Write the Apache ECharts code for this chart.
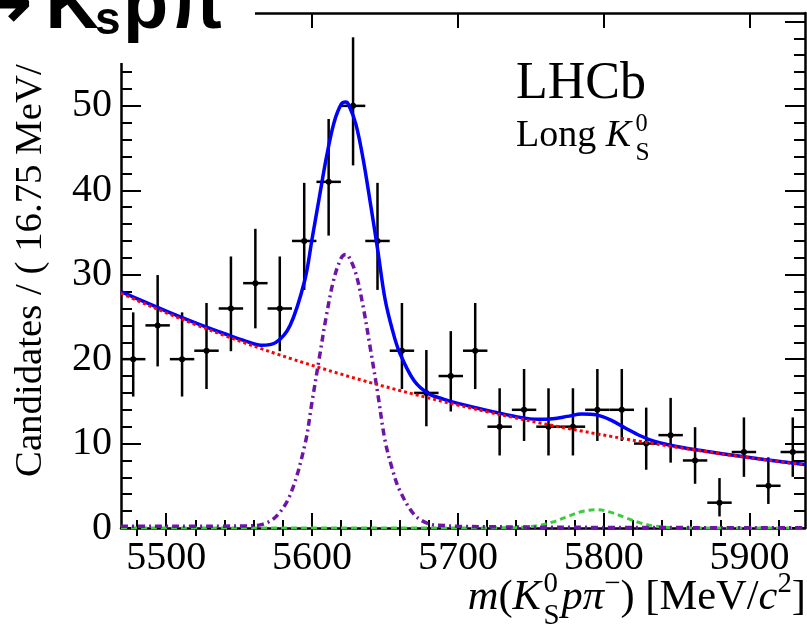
<!DOCTYPE html>
<html>
<head>
<meta charset="utf-8">
<script src="https://cdn.jsdelivr.net/npm/echarts@6/dist/echarts.min.js"></script>
<style>
  html, body { margin: 0; padding: 0; background: #fff; }
  #chart { width: 807px; height: 631px; }
</style>
</head>
<body>
<div id="chart"></div>
<script>
// ---- histogram of m(KS p pi-) candidates ----
const massLow = 5469;
const massHigh = 5938;
const binWidth = 16.75;
const counts = [20, 24, 20, 21, 26, 29, 26, 34, 41, 50, 34, 21, 16, 18, 21, 12, 14, 12, 12, 14, 14, 10, 11, 8, 3, 9, 5, 9];
// asymmetric Poisson (68.3% CL) uncertainties for each bin
const errLow  = [4.43, 4.86, 4.43, 4.54, 5.06, 5.35, 5.06, 5.80, 6.37, 7.05, 5.80, 4.54, 3.95, 4.20, 4.54, 3.41, 3.69, 3.41, 3.41, 3.69, 3.69, 3.10, 3.26, 2.76, 1.63, 2.94, 2.15, 2.94];
const errHigh = [5.54, 5.96, 5.54, 5.65, 6.16, 6.44, 6.16, 6.88, 7.45, 8.12, 6.88, 5.65, 5.08, 5.32, 5.65, 4.55, 4.83, 4.55, 4.55, 4.83, 4.83, 4.26, 4.41, 3.94, 2.91, 4.10, 3.37, 4.10];

// ---- fit model components, sampled in mass ----
const curveMass = [5469, 5480, 5500, 5520, 5540, 5555, 5565, 5575, 5585, 5595, 5600, 5605, 5610, 5615, 5620, 5623, 5625, 5630, 5635, 5640, 5645, 5650, 5655, 5660, 5670, 5680, 5690, 5700, 5720, 5740, 5755, 5765, 5775, 5785, 5795, 5805, 5815, 5825, 5835, 5850, 5870, 5890, 5910, 5938];
const totalFit = [28.00, 27.16, 25.69, 24.30, 23.01, 22.10, 21.65, 21.96, 24.02, 29.34, 34.23, 39.18, 44.04, 47.98, 50.20, 50.46, 50.17, 47.87, 43.72, 38.46, 32.96, 27.15, 23.52, 20.79, 17.44, 15.90, 15.27, 14.76, 13.93, 13.19, 12.87, 12.95, 13.22, 13.51, 13.40, 12.77, 11.82, 10.93, 10.26, 9.65, 9.09, 8.59, 8.12, 7.51];
const combBkg = [27.80, 26.96, 25.49, 24.10, 22.79, 21.85, 21.25, 20.66, 20.09, 19.54, 19.27, 19.00, 18.73, 18.47, 18.22, 18.06, 17.96, 17.71, 17.47, 17.22, 16.98, 16.75, 16.52, 16.29, 15.84, 15.40, 14.97, 14.56, 13.77, 13.02, 12.48, 12.14, 11.80, 11.48, 11.16, 10.85, 10.55, 10.26, 9.98, 9.57, 9.05, 8.55, 8.09, 7.48];
const signalPeak = [0.20, 0.20, 0.20, 0.20, 0.22, 0.25, 0.40, 1.30, 3.93, 9.80, 14.96, 20.18, 25.31, 29.51, 31.98, 32.40, 32.21, 30.16, 26.25, 21.24, 15.98, 10.40, 7.00, 4.50, 1.60, 0.50, 0.30, 0.20, 0.15, 0.12, 0.10, 0.10, 0.08, 0.08, 0.07, 0.07, 0.06, 0.06, 0.05, 0.05, 0.04, 0.04, 0.03, 0.03];
const secondPeak = [0, 0, 0, 0, 0, 0, 0, 0, 0, 0, 0, 0, 0, 0, 0, 0, 0, 0, 0, 0, 0, 0, 0, 0, 0, 0, 0, 0, 0.01, 0.05, 0.29, 0.71, 1.34, 1.95, 2.17, 1.85, 1.21, 0.61, 0.23, 0.03, 0, 0, 0, 0];

// ---- axis ticks ----
const xMajorTicks = [5500, 5600, 5700, 5800, 5900];
const xMinorTicks = [5480, 5500, 5520, 5540, 5560, 5580, 5600, 5620, 5640, 5660, 5680, 5700, 5720, 5740, 5760, 5780, 5800, 5820, 5840, 5860, 5880, 5900, 5920];
const yMax = 61;
const yMajorTicks = [0, 10, 20, 30, 40, 50, 60];
const yMinorTicks = [0, 2, 4, 6, 8, 10, 12, 14, 16, 18, 20, 22, 24, 26, 28, 30, 32, 34, 36, 38, 40, 42, 44, 46, 48, 50, 52, 54, 56, 58, 60];

const SERIF = '"Liberation Serif", "Times New Roman", serif';
const SANS = '"Liberation Sans", Arial, sans-serif';
const MID = 0.3375;   // canvas 'middle' baseline offset (fraction of font size) for the serif face

// text measurement for composing labels with sub/superscripts
const measureCtx = document.createElement('canvas').getContext('2d');
function textWidth(str, size, italic, family) {
  measureCtx.font = (italic ? 'italic ' : '') + size + 'px ' + family;
  return measureCtx.measureText(str).width;
}

// pieces: {t, i (italic), s (relative size), dy (baseline shift, fraction of F), kern}
// or {stack:[...], kern}
function composeLabel(pieces, F, baseline, anchorX, alignRight, z) {
  const items = [];
  let x = 0;
  pieces.forEach(p => {
    if (p.kern) x += p.kern * F;
    const group = p.stack ? p.stack : [p];
    let w = 0;
    group.forEach(q => {
      const size = F * (q.s || 1);
      w = Math.max(w, textWidth(q.t, size, q.i, SERIF));
      items.push({ q, size, x });
    });
    x += w;
  });
  const x0 = alignRight ? anchorX - x : anchorX;
  return items.map(({ q, size, x }) => ({
    type: 'text',
    z: z || 50,
    x: x0 + x,
    y: baseline + (q.dy || 0) * F - MID * size,
    style: {
      text: q.t,
      fontSize: size,
      fontFamily: SERIF,
      fontStyle: q.i ? 'italic' : 'normal',
      fill: '#000',
      align: 'left',
      verticalAlign: 'middle'
    }
  }));
}

const chart = echarts.init(document.getElementById('chart'), null, { renderer: 'canvas' });

const axisFont = { fontFamily: SERIF, fontSize: 40, color: '#000' };
const frameLine = { show: true, onZero: false, lineStyle: { color: '#000', width: 2.5 } };
const noLine = { show: false };
const tickStyle = { color: '#000', width: 2 };

function xAxisDef(grid, pos, ticks, len, withLine, withLabels) {
  return {
    gridIndex: grid, type: 'value', position: pos, min: massLow, max: massHigh,
    axisLine: withLine ? frameLine : noLine,
    axisTick: { show: true, inside: true, length: len, customValues: ticks, lineStyle: tickStyle },
    axisLabel: withLabels
      ? Object.assign({ show: true, customValues: ticks, margin: 10, verticalAlign: 'top', lineHeight: 40, formatter: v => String(v) }, axisFont)
      : { show: false },
    splitLine: { show: false }
  };
}
function yAxisDef(grid, pos, ticks, len, withLine, withLabels) {
  return {
    gridIndex: grid, type: 'value', position: pos, min: 0, max: yMax,
    axisLine: withLine ? frameLine : noLine,
    axisTick: { show: true, inside: true, length: len, customValues: ticks, lineStyle: tickStyle },
    axisLabel: withLabels
      ? Object.assign({ show: true, customValues: ticks, margin: 9, padding: [6, 0, 0, 0], formatter: v => String(v) }, axisFont)
      : { show: false },
    splitLine: { show: false }
  };
}

const plotRect = { left: 121, top: 13, width: 684, height: 515 };

const dataPoints = counts.map((c, i) => {
  const m = massLow + (i + 0.5) * binWidth;
  return [m, c, c - errLow[i], c + errHigh[i]];
});

function curve(values) {
  return curveMass.map((m, i) => [m, values[i]]);
}

const graphics = [];
// y-axis title
graphics.push({
  type: 'text', z: 40, x: 30.5, y: 477, rotation: Math.PI / 2,
  style: { text: 'Candidates / ( 16.75 MeV/c\u00B2 )', fontSize: 38.8, fontFamily: SERIF, fill: '#000', align: 'left', verticalAlign: 'middle' }
});
// x-axis title: m(K0S p pi-) [MeV/c2]
composeLabel([
  { t: 'm', i: 1 }, { t: '(' }, { t: 'K', i: 1 },
  { kern: 0.06, stack: [{ t: '0', s: 0.68, dy: -0.42 }, { t: 'S', s: 0.68, dy: 0.33 }] },
  { t: 'p', i: 1, kern: 0.05 }, { t: '\u03C0', i: 1 }, { t: '\u2212', s: 0.68, dy: -0.42 },
  { t: ') [MeV/' }, { t: 'c', i: 1 }, { t: '2', s: 0.68, dy: -0.42 }, { t: ']' }
], 42.5, 611.7, 806, true).forEach(g => graphics.push(g));
// experiment label
graphics.push({
  type: 'text', z: 50, x: 516, y: 102 - MID * 52,
  style: { text: 'LHCb', fontSize: 52, fontFamily: SERIF, fill: '#000', align: 'left', verticalAlign: 'middle' }
});
composeLabel([
  { t: 'Long ' }, { t: 'K', i: 1 },
  { kern: 0.12, stack: [{ t: '0', s: 0.64, dy: -0.42 }, { t: 'S', s: 0.67, dy: 0.33 }] }
], 38, 149, 516, false).forEach(g => graphics.push(g));
// decay title block in the upper-left corner
graphics.push({ type: 'rect', z: 100, shape: { x: 0, y: 0, width: 255, height: 63 }, style: { fill: '#fff' } });
graphics.push({
  type: 'text', z: 101, x: 33, y: 8,
  style: { text: '\u2192', fontSize: 80, fontWeight: 'bold', fontFamily: '"DejaVu Sans", sans-serif', fill: '#000', align: 'right', verticalAlign: 'middle' }
});
graphics.push({
  type: 'text', z: 101, x: 99, y: 33 - 0.3465 * 74,
  style: { text: 'K', fontSize: 74, fontWeight: 'bold', fontFamily: SANS, fill: '#000', align: 'right', verticalAlign: 'middle' }
});
graphics.push({
  type: 'text', z: 101, x: 95, y: 37 - 0.3465 * 46,
  style: { text: 's', fontSize: 46, fontWeight: 'bold', fontFamily: SANS, fill: '#000', align: 'left', verticalAlign: 'middle' }
});
graphics.push({
  type: 'text', z: 101, x: 123, y: 33 - 0.3465 * 74,
  style: { text: 'p\u03C0', fontSize: 74, fontWeight: 'bold', fontFamily: SANS, fill: '#000', align: 'left', verticalAlign: 'middle' }
});

const curveBase = { type: 'line', showSymbol: false, smooth: 0.35, silent: true };

const option = {
  animation: false,
  backgroundColor: '#fff',
  grid: [Object.assign({}, plotRect), Object.assign({}, plotRect)],
  xAxis: [
    xAxisDef(0, 'bottom', xMajorTicks, 15, true, true),
    xAxisDef(0, 'top', xMajorTicks, 15, true, false),
    xAxisDef(1, 'bottom', xMinorTicks, 8, false, false),
    xAxisDef(1, 'top', xMinorTicks, 8, false, false)
  ],
  yAxis: [
    yAxisDef(0, 'left', yMajorTicks, 20, true, true),
    yAxisDef(0, 'right', yMajorTicks, 20, true, false),
    yAxisDef(1, 'left', yMinorTicks, 11, false, false),
    yAxisDef(1, 'right', yMinorTicks, 11, false, false)
  ],
  series: [
    {
      name: 'data', type: 'custom', xAxisIndex: 0, yAxisIndex: 0, z: 2,
      data: dataPoints,
      encode: { x: 0, y: 1 },
      renderItem: function (params, api) {
        const m = api.value(0), c = api.value(1);
        const p = api.coord([m, c]);
        const lo = api.coord([m, api.value(2)]);
        const hi = api.coord([m, api.value(3)]);
        const l = api.coord([m - binWidth / 2, c]);
        const r = api.coord([m + binWidth / 2, c]);
        const st = { stroke: '#000', lineWidth: 2.5 };
        return {
          type: 'group',
          children: [
            { type: 'line', shape: { x1: p[0], y1: hi[1], x2: p[0], y2: lo[1] }, style: st },
            { type: 'line', shape: { x1: l[0], y1: p[1], x2: r[0], y2: p[1] }, style: st },
            { type: 'circle', shape: { cx: p[0], cy: p[1], r: 3 }, style: { fill: '#000' } }
          ]
        };
      }
    },
    Object.assign({}, curveBase, {
      name: 'total', data: curve(totalFit), z: 3,
      lineStyle: { color: '#0000ff', width: 3.5 }
    }),
    Object.assign({}, curveBase, {
      name: 'second peak', data: curve(secondPeak), z: 4,
      lineStyle: { color: '#3dcc3d', width: 3, type: [6, 4] }
    }),
    Object.assign({}, curveBase, {
      name: 'signal', data: curve(signalPeak), z: 4,
      lineStyle: { color: '#6e15a8', width: 3.5, type: [7, 4, 2, 4] }
    }),
    Object.assign({}, curveBase, {
      name: 'background', data: curve(combBkg), z: 5,
      lineStyle: { color: '#ff0000', width: 3, type: [3, 3] }
    })
  ],
  graphic: { elements: graphics }
};

chart.setOption(option);
</script>
</body>
</html>
